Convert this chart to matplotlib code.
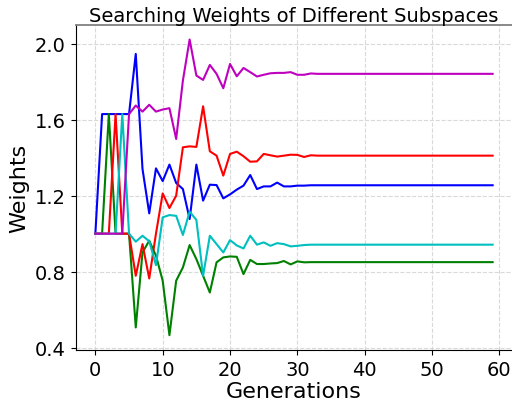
import numpy as np
import matplotlib
matplotlib.use('Agg')
import matplotlib.pyplot as plt

# 各子空间权重随代数变化
generations = list(range(60))

w_blue = [1.000, 1.630, 1.630, 1.630, 1.630, 1.630, 1.947, 1.341, 1.107, 1.344,
          1.277, 1.364, 1.267, 1.235, 1.077, 1.364, 1.174, 1.258, 1.256, 1.186,
          1.207, 1.232, 1.253, 1.309, 1.235, 1.249, 1.249, 1.269, 1.249, 1.249,
          1.253, 1.253, 1.255, 1.255, 1.255, 1.255, 1.255, 1.255, 1.255, 1.255,
          1.255, 1.255, 1.255, 1.255, 1.255, 1.255, 1.255, 1.255, 1.255, 1.255,
          1.255, 1.255, 1.255, 1.255, 1.255, 1.255, 1.255, 1.255, 1.255, 1.255]

w_green = [1.000, 1.000, 1.630, 1.000, 1.000, 1.000, 0.506, 0.901, 0.963, 0.884,
           0.752, 0.465, 0.752, 0.822, 0.940, 0.866, 0.778, 0.690, 0.849, 0.875,
           0.880, 0.878, 0.787, 0.862, 0.840, 0.840, 0.843, 0.845, 0.856, 0.838,
           0.854, 0.849, 0.850, 0.850, 0.850, 0.850, 0.850, 0.850, 0.850, 0.850,
           0.850, 0.850, 0.850, 0.850, 0.850, 0.850, 0.850, 0.850, 0.850, 0.850,
           0.850, 0.850, 0.850, 0.850, 0.850, 0.850, 0.850, 0.850, 0.850, 0.850]

w_red = [1.000, 1.000, 1.000, 1.630, 1.000, 1.000, 0.778, 0.945, 0.764, 1.000,
         1.212, 1.135, 1.200, 1.455, 1.460, 1.457, 1.671, 1.434, 1.411, 1.306,
         1.420, 1.432, 1.408, 1.379, 1.381, 1.420, 1.413, 1.406, 1.411, 1.416,
         1.415, 1.404, 1.413, 1.411, 1.411, 1.411, 1.411, 1.411, 1.411, 1.411,
         1.411, 1.411, 1.411, 1.411, 1.411, 1.411, 1.411, 1.411, 1.411, 1.411,
         1.411, 1.411, 1.411, 1.411, 1.411, 1.411, 1.411, 1.411, 1.411, 1.411]

w_cyan = [1.000, 1.000, 1.000, 1.000, 1.630, 1.000, 0.958, 0.989, 0.960, 0.834,
          1.086, 1.098, 1.094, 0.993, 1.116, 1.072, 0.778, 0.989, 0.945, 0.901,
          0.966, 0.938, 0.922, 0.989, 0.942, 0.954, 0.936, 0.950, 0.945, 0.933,
          0.936, 0.940, 0.942, 0.942, 0.942, 0.942, 0.942, 0.942, 0.942, 0.942,
          0.942, 0.942, 0.942, 0.942, 0.942, 0.942, 0.942, 0.942, 0.942, 0.942,
          0.942, 0.942, 0.942, 0.942, 0.942, 0.942, 0.942, 0.942, 0.942, 0.942]

w_magenta = [1.000, 1.000, 1.000, 1.000, 1.000, 1.630, 1.675, 1.643, 1.679, 1.643,
             1.654, 1.661, 1.499, 1.807, 2.023, 1.833, 1.810, 1.889, 1.842, 1.766,
             1.894, 1.829, 1.873, 1.851, 1.828, 1.837, 1.845, 1.847, 1.847, 1.851,
             1.837, 1.837, 1.844, 1.842, 1.842, 1.842, 1.842, 1.842, 1.842, 1.842,
             1.842, 1.842, 1.842, 1.842, 1.842, 1.842, 1.842, 1.842, 1.842, 1.842,
             1.842, 1.842, 1.842, 1.842, 1.842, 1.842, 1.842, 1.842, 1.842, 1.842]

series = [w_blue, w_green, w_red, w_cyan, w_magenta]
colors = ['b', 'g', 'r', 'c', 'm']
y_ticks = [0.4, 0.8, 1.2, 1.6, 2.0]

fig = plt.figure(figsize=(5.12, 4.10), dpi=100)
ax = fig.add_axes([75.5 / 512, 59 / 410, 437 / 512, 325.3 / 410])

for w, c in zip(series, colors):
    ax.plot(generations, w, color=c, linewidth=1.5)

ax.set_yticks(y_ticks)
ax.grid(True, linestyle='--', color='#d9d9d9', linewidth=0.8)
ax.tick_params(labelsize=14)
ax.set_xlabel('Generations', fontsize=16, labelpad=2)
ax.set_ylabel('Weights', fontsize=16)
ax.set_title('Searching Weights of Different Subspaces', fontsize=14, pad=2)

# 上边框灰色, 右边框不显示
ax.spines['top'].set_color('#808080')
ax.spines['top'].set_linewidth(1.3)
ax.spines['right'].set_visible(False)

fig.savefig('out.png', dpi=100)
plt.close()
